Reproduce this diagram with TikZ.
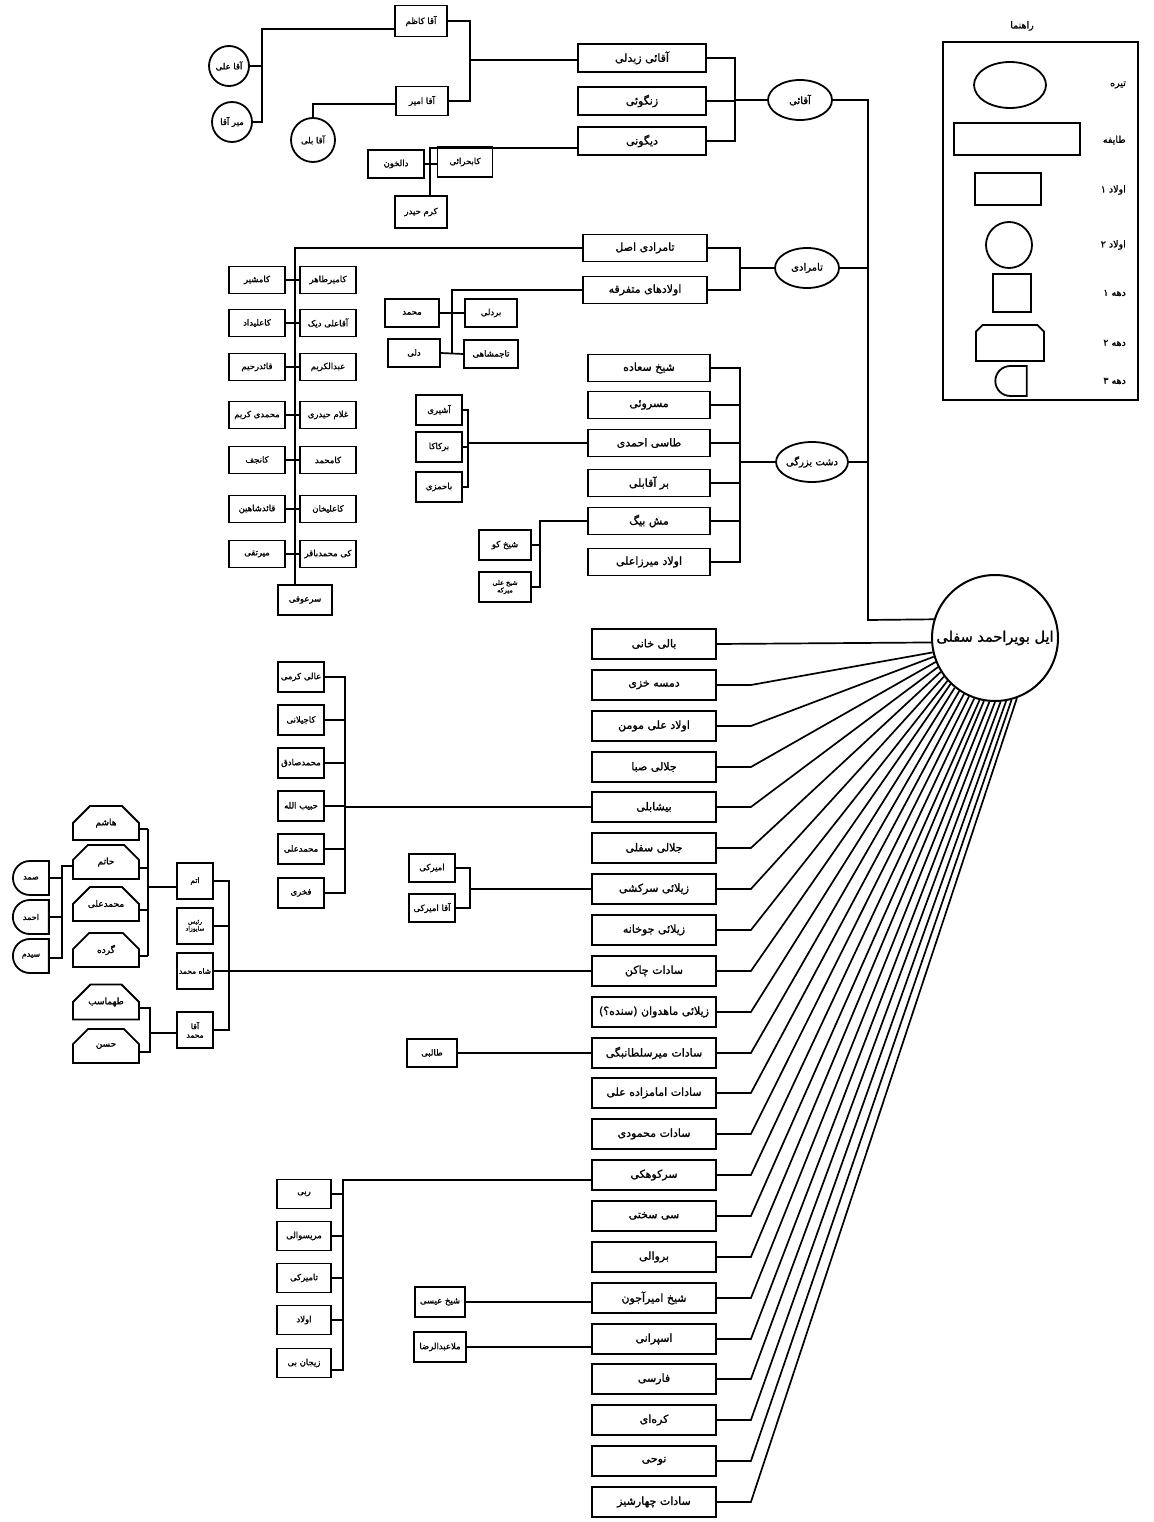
\documentclass[tikz,border=0pt]{standalone}
\usepackage{fontspec}
\newfontfamily\arabicfont[Script=Arabic,FakeBold=1.3]{DejaVu Sans}
\TeXXeTstate=1
\usetikzlibrary{shapes.geometric,shapes.misc}
\newcommand{\fa}[1]{{\arabicfont\beginR #1\endR}}
\begin{document}
\begin{tikzpicture}[x=1pt,y=-1pt,line width=1.7pt,
  tira/.style={ellipse,draw,line width=1.8pt,minimum width=64pt,minimum height=40pt,inner sep=-1pt,font=\fontsize{10}{12}\selectfont},
  taife/.style={rectangle,draw,line width=1.8pt,minimum width=124pt,minimum height=28pt,inner sep=1pt,font=\fontsize{11}{13}\selectfont},
  owlad/.style={rectangle,draw,line width=1.8pt,minimum width=52pt,minimum height=29pt,inner sep=1pt,font=\fontsize{8.5}{10}\selectfont},
  owladc/.style={circle,draw,line width=1.8pt,minimum size=40pt,inner sep=0pt,font=\fontsize{8.5}{10}\selectfont},
  dahea/.style={rectangle,draw,line width=1.8pt,minimum size=36pt,inner sep=1pt,font=\fontsize{7.5}{8.5}\selectfont},
  daheb/.style={chamfered rectangle,chamfered rectangle corners={north west,north east},chamfered rectangle xsep=12pt,chamfered rectangle ysep=12pt,draw,line width=1.8pt,minimum width=66pt,minimum height=34pt,inner sep=1pt,font=\fontsize{9}{10}\selectfont},
  dahec/.style={rounded rectangle,rounded rectangle right arc=none,draw,line width=1.8pt,minimum width=38pt,minimum height=34pt,inner sep=1pt,font=\fontsize{8}{9}\selectfont},
  lgtext/.style={anchor=east,font=\fontsize{9.5}{11}\selectfont}]
\useasboundingbox (0,0) rectangle (1153,1522);

% ---------- centre ----------
\node[circle,draw,line width=2pt,minimum size=126pt,inner sep=0pt,font=\fontsize{14.5}{16}\selectfont] (C) at (995,638) {\fa{ایل بویراحمد سفلی}};

% ---------- tire (ellipses) ----------
\node[tira] (e1) at (800,100) {\fa{آقائی}};
\node[tira] (e2) at (807,268) {\fa{تامرادی}};
\node[tira,minimum width=72pt] (e3) at (812,462) {\fa{دشت بزرگی}};
\coordinate (s1) at (868,100);
\coordinate (s2) at (868,620);
\draw (e1.east) -- (s1) -- (s2) -- (C.163);
\draw (e2.east) -- (e2.east -| s1);
\draw (e3.east) -- (e3.east -| s1);

% ---------- Aqaei ----------
\node[taife,minimum width=128pt] (t1) at (642,58) {\fa{آقائی زیدلی}};
\node[taife,minimum width=128pt] (t2) at (642,101) {\fa{زنگوئی}};
\node[taife,minimum width=128pt] (t3) at (642,141) {\fa{دیگونی}};
\coordinate (b4) at (735,100);
\draw (t1.east) -| (b4);
\draw (t3.east) -| (b4);
\draw (t2.east) -- (t2.east -| b4);
\draw (b4) -- (e1.west);

\node[owlad,minimum height=31pt] (aK) at (421,21) {\fa{آقا کاظم}};
\node[owlad] (aA) at (422,101) {\fa{آقا امیر}};
\node[owladc] (cAli) at (229,66) {\fa{آقا علی}};
\node[owladc] (cMir) at (232,122) {\fa{میر آقا}};
\node[owladc,minimum size=44pt] (cBali) at (313,140) {\fa{آقا بلی}};
\coordinate (b1t) at (262,29);
\coordinate (b1b) at (262,122);
\draw (b1t -| aK.west) -- (b1t) -- (b1b) -- (cMir.east);
\draw (cAli.east) -- (cAli.east -| b1t);
\coordinate (b2) at (313,104);
\draw (cBali.north) -- (b2) -- (b2 -| aA.west);
\coordinate (b3) at (470,60);
\draw (aK.east) -| (b3);
\draw (aA.east) -| (b3);
\draw (b3) -- (b3 -| t1.west);

\node[owlad,minimum width=55pt,minimum height=30pt] (kb) at (465,162) {\fa{کابحرائی}};
\node[owlad,minimum width=56pt,minimum height=28pt] (dk) at (396,164) {\fa{دالخون}};
\node[owlad,minimum height=32pt] (kh) at (421,212) {\fa{کرم حیدر}};
\coordinate (b5) at (430,148);
\draw (b5 -| t3.west) -- (b5) -- (b5 |- kh.north);
\draw (dk.east) -- (kb.west |- dk.east);

% ---------- Tamradi ----------
\node[taife,minimum height=27pt] (t4) at (645,248) {\fa{تامرادی اصل}};
\node[taife,minimum height=27pt] (t5) at (645,290) {\fa{اولادهای متفرقه}};
\coordinate (b6) at (740,268);
\draw (t4.east) -| (b6);
\draw (t5.east) -| (b6);
\draw (b6) -- (e2.west);

\node[owlad,minimum width=54pt,minimum height=30pt] (so) at (305,600) {\fa{سرعوفی}};
\coordinate (b7) at (295,248);
\draw (t4.west) -- (b7) -- (b7 |- so.north);
\foreach \yy/\lt/\rt [count=\k] in {280/کامشیر/کامیرطاهر,323/کاعلیداد/آقاعلی دیک,367/قائدرحیم/عبدالکریم,415/محمدی کریم/غلام حیدری,460/کانجف/کامحمد,509/قائدشاهین/کاعلیخان,554/میرتقی/کی محمدباقر}{
  \node[owlad,minimum width=56pt,minimum height=27pt] (L\k) at (257,\yy) {\fa{\lt}};
  \node[owlad,minimum width=56pt,minimum height=27pt] (R\k) at (328,\yy) {\fa{\rt}};
  \draw (L\k.east) -- (R\k.west);
}

\node[owlad,minimum width=54pt,minimum height=28pt] (mh) at (412,313) {\fa{محمد}};
\node[owlad,minimum height=28pt] (dl) at (414,353) {\fa{دلی}};
\node[owlad,minimum height=28pt] (bd) at (491,313) {\fa{بردلی}};
\node[owlad,minimum width=54pt,minimum height=28pt] (tj) at (491,354) {\fa{تاجمشاهی}};
\coordinate (b8) at (452,290);
\draw (t5.west) -- (b8) -- (b8 |- tj.west);
\draw (mh.east) -- (bd.west);
\draw (dl.east) -- (tj.west);

% ---------- Dasht-e Bozorgi ----------
\foreach \yy/\tt [count=\k] in {368/شیخ سعاده,405/مسروئی,443/طاسی احمدی,483/بر آقابلی,521/مش بیگ,562/اولاد میرزاعلی}{
  \node[taife,minimum width=122pt,minimum height=27pt] (s\k) at (649,\yy) {\fa{\tt}};
}
\coordinate (b9) at (740,462);
\draw (s1.east) -| (b9);
\draw (s6.east) -| (b9);
\foreach \k in {2,3,4,5}{\draw (s\k.east) -- (s\k.east -| b9);}
\draw (b9) -- (e3.west);

\node[owlad,minimum width=46pt,minimum height=30pt] (ash) at (439,410) {\fa{آشیری}};
\node[owlad,minimum width=46pt,minimum height=30pt] (brk) at (439,447) {\fa{برکاکا}};
\node[owlad,minimum width=46pt,minimum height=30pt] (bah) at (439,487) {\fa{باحمزی}};
\coordinate (b10) at (468,443);
\draw (s3.west) -- (b10);
\draw (ash.east) -| (b10);
\draw (bah.east) -| (b10);
\draw (brk.east) -- (brk.east -| b10);

\node[owlad,minimum height=30pt] (sk) at (505,545) {\fa{شیخ کو}};
\node[owlad,minimum height=30pt,align=center,font=\fontsize{6.5}{7.5}\selectfont] (sa) at (505,587) {\fa{شیخ علی}\\\fa{میرکه}};
\coordinate (b11) at (540,521);
\draw (s5.west) -- (b11) |- (sa.east);
\draw (sk.east) -- (sk.east -| b11);

% ---------- main list ----------
\foreach \tt [count=\i] in {بالی خانی,دمسه خزی,اولاد علی مومن,جلالی صبا,بیشابلی,جلالی سفلی,زیلائی سرکشی,زیلائی جوخانه,سادات چاکن,زیلائی ماهدوان (سنده؟),سادات میرسلطانبگی,سادات امامزاده علی,سادات محمودی,سرکوهکی,سی سختی,بروالی,شیخ امیرآجون,اسپرانی,فارسی,کره‌ای,نوحی,سادات چهارشیز}{
  \pgfmathtruncatemacro\yy{644+(\i-1)*40.86+0.5}
  \node[taife,minimum height=30pt] (m\i) at (654,\yy) {\fa{\tt}};
}
\draw (m1.east) -- (C.184);
\foreach \i in {2,...,22}{
  \pgfmathtruncatemacro\ang{193+(\i-2)*4.85}
  \draw (m\i.east) -- ++(34,0) -- (C.\ang);
}

% bishabli
\foreach \yy/\tt [count=\k] in {677/عالی کرمی,720/کاجیلانی,763/محمدصادق,806/حبیب الله,849/محمدعلی,893/فخری}{
  \node[owlad,minimum width=46pt,minimum height=30pt] (k\k) at (301,\yy) {\fa{\tt}};
}
\coordinate (b12t) at (345,677);
\coordinate (b12b) at (345,893);
\draw (k1.east) -- (b12t) -- (b12b) -- (k6.east);
\foreach \k in {2,3,4,5}{\draw (k\k.east) -- (k\k.east -| b12t);}
\draw (m5.west) -- (m5.west -| b12t);

% zilai sarkeshi
\node[owlad,minimum width=46pt,minimum height=28pt] (am) at (432,868) {\fa{امیرکی}};
\node[owlad,minimum width=46pt,minimum height=28pt] (aq) at (432,908) {\fa{آقا امیرکی}};
\coordinate (b13) at (470,889);
\draw (am.east) -| (b13);
\draw (aq.east) -| (b13);
\draw (b13) -- (b13 -| m7.west);

% sadat chaken
\node[dahea] (q1) at (195,881) {\fa{اتم}};
\node[dahea,align=center,font=\fontsize{6}{7}\selectfont] (q2) at (195,926) {\fa{رئیس}\\\fa{سایوزاد}};
\node[dahea] (q3) at (195,971) {\fa{شاه محمد}};
\node[dahea,align=center] (q4) at (195,1030) {\fa{آقا}\\\fa{محمد}};
\coordinate (b14t) at (229,881);
\coordinate (b14b) at (229,1030);
\draw (q1.east) -- (b14t) -- (b14b) -- (q4.east);
\draw (q2.east) -- (q2.east -| b14t);
\draw (q3.east) -- (q3.east -| m9.west);

\foreach \yy/\tt [count=\k] in {823/هاشم,862/حاتم,904/محمدعلی,950/گرده,1002/طهماسب,1046/حسن}{
  \node[daheb] (p\k) at (106,\yy) {\fa{\tt}};
}
\coordinate (b15t) at (148,829);
\coordinate (b15b) at (148,956);
\draw (b15t) -- (b15b);
\foreach \k in {1,2,3,4}{\draw ([yshift=-6pt]p\k.east) -- ([yshift=-6pt]p\k.east -| b15t);}
\coordinate (b15m) at (148,887);
\draw (b15m) -- (b15m -| q1.west);
\coordinate (b16t) at (150,1008);
\coordinate (b16b) at (150,1052);
\draw ([yshift=-6pt]p5.east) -- (b16t) -- (b16b) -- ([yshift=-6pt]p6.east);
\coordinate (b16m) at (150,1033);
\draw (b16m) -- (b16m -| q4.west);

\foreach \yy/\tt [count=\k] in {878/صمد,917/احمد,956/سیدم}{
  \node[dahec] (d\k) at (31,\yy) {\fa{\tt}};
}
\coordinate (b17t) at (62,866);
\coordinate (b17b) at (62,958);
\draw (b17t -| p2.west) -- (b17t) -- (b17b) -- (b17b -| d3.east);
\draw (d1.east) -- (d1.east -| b17t);
\draw (d2.east) -- (d2.east -| b17t);

% mir soltan begi
\node[owlad,minimum width=50pt,minimum height=28pt] (tb) at (432,1053) {\fa{طالبی}};
\draw (tb.east) -- (tb.east -| m11.west);

% sarkuhaki
\foreach \yy/\tt [count=\k] in {1194/ربی,1236/مریسوالی,1278/تامیرکی,1320/اولاد,1363/زیجان بی}{
  \node[owlad,minimum width=54pt,minimum height=29pt] (r\k) at (304,\yy) {\fa{\tt}};
}
\coordinate (b18t) at (343,1180);
\coordinate (b18b) at (343,1370);
\draw (b18t -| m14.west) -- (b18t) -- (b18b) -- (b18b -| r5.east);
\foreach \k in {1,2,3,4}{\draw (r\k.east) -- (r\k.east -| b18t);}

% sheikh amir ajun, esprani
\node[owlad,minimum width=50pt,minimum height=30pt] (si) at (440,1302) {\fa{شیخ عیسی}};
\draw (si.east) -- (si.east -| m17.west);
\node[owlad,minimum width=52pt,minimum height=30pt] (ma) at (440,1347) {\fa{ملاعبدالرضا}};
\draw (ma.east) -- (ma.east -| m18.west);

% ---------- legend ----------
\node[font=\fontsize{9.5}{11}\selectfont] (lgt) at (1022,26) {\fa{راهنما}};
\node[draw,line width=1.8pt,minimum width=195pt,minimum height=358pt,inner sep=0pt] (lgbox) at (1040.5,221) {};
\node[ellipse,draw,line width=1.8pt,minimum width=72pt,minimum height=46pt] (lg1) at (1010,85) {};
\node[draw,line width=1.8pt,minimum width=126pt,minimum height=32pt] (lg2) at (1017,139) {};
\node[draw,line width=1.8pt,minimum width=66pt,minimum height=32pt] (lg3) at (1008,189) {};
\node[circle,draw,line width=1.8pt,minimum size=46pt] (lg4) at (1009,245) {};
\node[draw,line width=1.8pt,minimum size=38pt] (lg5) at (1012,293) {};
\node[chamfered rectangle,chamfered rectangle corners={north west,north east},chamfered rectangle xsep=12pt,chamfered rectangle ysep=12pt,draw,line width=1.8pt,minimum width=68pt,minimum height=36pt] (lg6) at (1010,343) {};
\node[rounded rectangle,rounded rectangle right arc=none,draw,line width=1.8pt,minimum width=38pt,minimum height=30pt] (lg7) at (1011,381) {};
\node[lgtext] (lb1) at (1130,85) {\fa{تیره}};
\node[lgtext] (lb2) at (1130,140) {\fa{طایفه}};
\node[lgtext] (lb3) at (1130,190) {\fa{اولاد ۱}};
\node[lgtext] (lb4) at (1130,245) {\fa{اولاد ۲}};
\node[lgtext] (lb5) at (1130,293) {\fa{دهه ۱}};
\node[lgtext] (lb6) at (1130,343) {\fa{دهه ۲}};
\node[lgtext] (lb7) at (1130,381) {\fa{دهه ۳}};
\end{tikzpicture}
\end{document}
